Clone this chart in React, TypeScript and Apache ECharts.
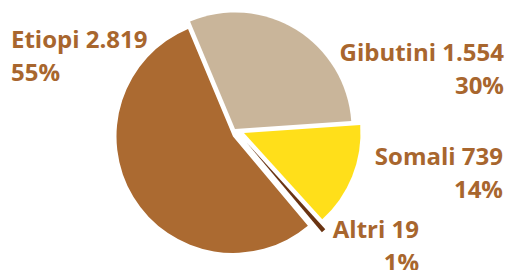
import React, { useEffect, useRef } from "react";
import * as echarts from "echarts";

const categories = ["Etiopi", "Gibutini", "Somali", "Altri"];
const values = [2819, 1554, 739, 19];
const percentLabels = ["55%", "30%", "14%", "1%"];
const colors = ["#AB6A31", "#C9B59A", "#FFDF1A", "#6A3412"];

// per-slice explode centres (px) and label anchors
const centers: [number, number][] = [
  [233, 136.5],
  [235, 129],
  [244, 133],
  [247, 143],
];
const labelAnchors = [
  { x: 11, y: 55, align: "left" },
  { x: 504, y: 67.7, align: "right" },
  { x: 503, y: 172, align: "right" },
  { x: 419, y: 245, align: "right" },
];

// draw order in the pie (clockwise from start angle)
const order = [1, 2, 3, 0];

function fmt(n: number): string {
  return String(n).replace(/\B(?=(\d{3})+(?!\d))/g, ".");
}

export default function App() {
  const ref = useRef<HTMLDivElement>(null);
  useEffect(() => {
    if (!ref.current) return;
    const chart = echarts.init(ref.current, undefined, { renderer: "svg" });
    const series = categories.map((_, s) => ({
      type: "pie",
      silent: true,
      center: centers[s],
      radius: 116.5,
      startAngle: 112.7,
      clockwise: true,
      minAngle: 2.2,
      avoidLabelOverlap: false,
      labelLine: { show: false },
      labelLayout: {
        x: labelAnchors[s].x,
        y: labelAnchors[s].y,
        align: labelAnchors[s].align,
        verticalAlign: "middle",
      },
      data: order.map((i) => ({
        name: categories[i],
        value: values[i],
        itemStyle: { color: i === s ? colors[i] : "rgba(0,0,0,0)" },
        label: {
          show: i === s,
          formatter: `${categories[i]} ${fmt(values[i])}\n${percentLabels[i]}`,
          color: "#A8662E",
          fontFamily: "Open Sans",
          fontWeight: "bold",
          fontSize: 24,
          lineHeight: 33,
          align: labelAnchors[s].align,
        },
      })),
    }));
    chart.setOption({
      animation: false,
      backgroundColor: "#ffffff",
      series,
    });
    return () => chart.dispose();
  }, []);
  return (
    <div
      ref={ref}
      style={{ position: "fixed", left: 0, top: 0, width: 507, height: 270 }}
    />
  );
}
